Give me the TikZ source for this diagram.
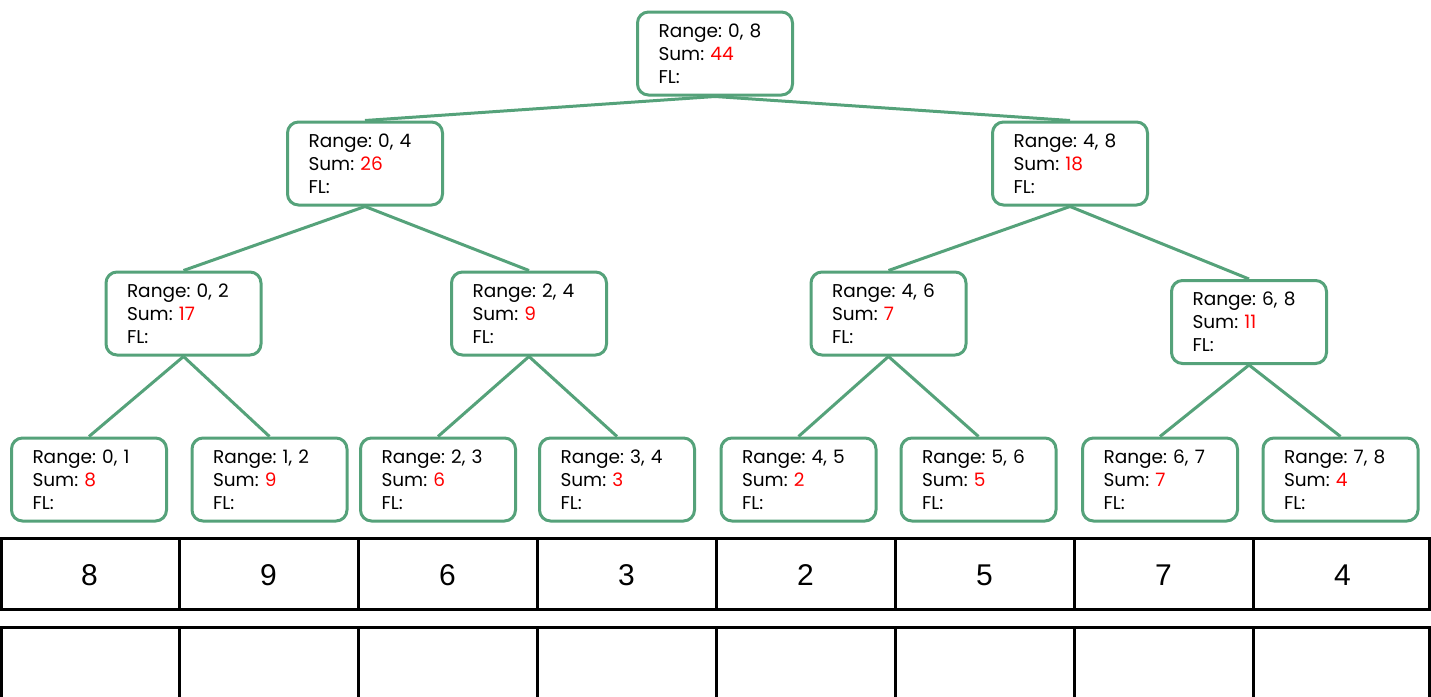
\documentclass[tikz,border=0pt]{standalone}
\usepackage{fontspec}
\setmainfont{Poppins}
\newfontfamily\numfont{Liberation Sans}
\usetikzlibrary{backgrounds}
\frenchspacing
\definecolor{treegreen}{HTML}{55A27A}
\definecolor{sumred}{HTML}{FF0000}
\tikzset{
  treebox/.style={draw=treegreen, line width=3pt, rounded corners=11pt, fill=white,
    minimum width=155pt, minimum height=83pt, text width=113pt, inner xsep=21pt,
    align=left, font=\frenchspacing\fontsize{18.5}{23}\selectfont},
  treeedge/.style={draw=treegreen, line width=3pt},
  cellline/.style={draw=black, line width=3pt},
  cellnum/.style={font=\numfont\fontsize{30}{30}\selectfont}
}
\newcommand{\rs}[2]{Range: #1\\Sum: \textcolor{sumred}{#2}\\FL:}
\begin{document}
\begin{tikzpicture}[x=1pt,y=-1pt]
\useasboundingbox (0,0) rectangle (1431,696);
\node[treebox] (root) at (715,53.5) {\rs{0, 8}{44}};
\node[treebox] (a) at (365,163.5) {\rs{0, 4}{26}};
\node[treebox] (b) at (1070,163.5) {\rs{4, 8}{18}};
\node[treebox] (aa) at (183.5,313.5) {\rs{0, 2}{17}};
\node[treebox] (ab) at (529,313.5) {\rs{2, 4}{9}};
\node[treebox] (ba) at (888.5,313.5) {\rs{4, 6}{7}};
\node[treebox] (bb) at (1249,322) {\rs{6, 8}{11}};
\node[treebox] (l1) at (89,479.5) {\rs{0, 1}{8}};
\node[treebox] (l2) at (269.5,479.5) {\rs{1, 2}{9}};
\node[treebox] (l3) at (438,479.5) {\rs{2, 3}{6}};
\node[treebox] (l4) at (617,479.5) {\rs{3, 4}{3}};
\node[treebox] (l5) at (798.5,479.5) {\rs{4, 5}{2}};
\node[treebox] (l6) at (978.5,479.5) {\rs{5, 6}{5}};
\node[treebox] (l7) at (1160,479.5) {\rs{6, 7}{7}};
\node[treebox] (l8) at (1340.5,479.5) {\rs{7, 8}{4}};
\begin{scope}[on background layer]
\foreach \p/\c in {root/a,root/b,a/aa,a/ab,b/ba,b/bb,aa/l1,aa/l2,ab/l3,ab/l4,ba/l5,ba/l6,bb/l7,bb/l8}{
  \draw[treeedge] (\p.south) -- (\c.north);
}
\end{scope}
% table
\draw[cellline] (1.5,538.5) rectangle (1429.5,609.5);
\draw[cellline] (1.5,700) -- (1.5,627.5) -- (1429.5,627.5) -- (1429.5,700);
\foreach \x in {179,358,537,716,895,1074,1253}{
  \draw[cellline] (\x,538.5) -- (\x,609.5);
  \draw[cellline] (\x,627.5) -- (\x,700);
}
\foreach \v [count=\i] in {8,9,6,3,2,5,7,4}{
  \node[cellnum] (n\i) at ({179*\i-89.5},575) {\v};
}
\end{tikzpicture}
\end{document}
